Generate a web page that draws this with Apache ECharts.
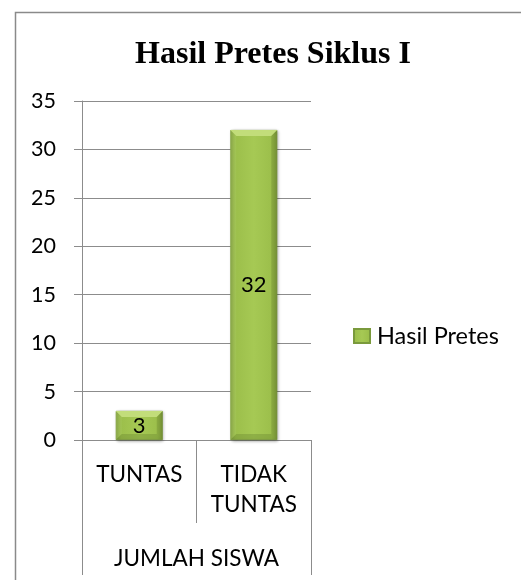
<!DOCTYPE html>
<html>
<head>
<meta charset="utf-8">
<script src="https://cdn.jsdelivr.net/npm/echarts@6/dist/echarts.min.js"></script>
<style>
html,body{margin:0;padding:0;background:#fff;}
#chart{width:521px;height:580px;}
</style>
</head>
<body>
<div id="chart"></div>
<script>
var titleText = 'Hasil Pretes Siklus I';
var categories = ['TUNTAS', 'TIDAK\nTUNTAS'];
var groupLabels = ['JUMLAH SISWA'];
var seriesName = 'Hasil Pretes';
var values = [3, 32];
var yTicks = { min: 0, max: 35, interval: 5 };

var font = 'Lato';
var gray = '#8c8c8c';
var chart = echarts.init(document.getElementById('chart'), null, {renderer: 'canvas'});

var barColor = new echarts.graphic.LinearGradient(0, 0, 1, 0, [
  {offset: 0, color: '#86a342'},
  {offset: 0.12, color: '#9cbf4b'},
  {offset: 0.5, color: '#a6c954'},
  {offset: 0.88, color: '#9cbf4b'},
  {offset: 1, color: '#7f9b3d'}
]);

var BAR_W = 47;
var BEVEL = 6;

function renderBevel(params, api) {
  var top = api.coord([api.value(0), api.value(1)]);
  var base = api.coord([api.value(0), 0]);
  var half = BAR_W / 2;
  var x0 = top[0] - half, x1 = top[0] + half;
  var y0 = top[1], y1 = base[1];
  var b = Math.min(BEVEL, (y1 - y0) / 2);
  return {
    type: 'group',
    silent: true,
    children: [
      { type: 'polygon', shape: {points: [[x0, y0], [x1, y0], [x1 - b, y0 + b], [x0 + b, y0 + b]]},
        style: {fill: '#c2dd7a'} },
      { type: 'polygon', shape: {points: [[x0, y0], [x0 + b, y0 + b], [x0 + b, y1 - b], [x0, y1]]},
        style: {fill: 'rgba(180,210,110,0.25)'} },
      { type: 'polygon', shape: {points: [[x1, y0], [x1, y1], [x1 - b, y1 - b], [x1 - b, y0 + b]]},
        style: {fill: 'rgba(95,122,40,0.3)'} },
      { type: 'polygon', shape: {points: [[x0, y1], [x0 + b, y1 - b], [x1 - b, y1 - b], [x1, y1]]},
        style: {fill: 'rgba(100,128,45,0.35)'} }
    ]
  };
}

chart.setOption({
  animation: false,
  graphic: [{
    type: 'rect',
    left: 13, top: 10,
    shape: {width: 540, height: 600},
    style: {fill: 'none', stroke: '#8a8a8a', lineWidth: 1.5},
    silent: true
  }],
  title: {
    text: titleText,
    left: 268, top: 34,
    textAlign: 'center',
    textStyle: {fontFamily: 'Liberation Serif', fontWeight: 'bold', fontSize: 32, color: '#000'}
  },
  legend: {
    data: [seriesName],
    left: 348, top: 319,
    itemWidth: 16, itemHeight: 14, itemGap: 8,
    textStyle: {fontFamily: font, fontSize: 23.5, color: '#000', padding: [0, 0, 0, 2]},
    icon: 'rect'
  },
  grid: {left: 82, right: 210, top: 101, bottom: 140, containLabel: false},
  xAxis: [{
    type: 'category',
    data: categories,
    position: 'bottom',
    axisLine: {show: true, lineStyle: {color: gray, width: 1}},
    axisTick: {show: true, length: 83, interval: 0, lineStyle: {color: gray, width: 1}},
    axisLabel: {
      interval: 0, margin: 20, verticalAlign: 'top', lineHeight: 30,
      fontFamily: font, fontSize: 22.5, color: '#000', align: 'center'
    }
  }, {
    type: 'category',
    data: groupLabels,
    position: 'bottom',
    axisLine: {show: false},
    axisTick: {show: true, length: 135, interval: 0, lineStyle: {color: gray, width: 1}},
    axisLabel: {
      interval: 0, margin: 104, verticalAlign: 'top', lineHeight: 30,
      fontFamily: font, fontSize: 22.5, color: '#000'
    }
  }],
  yAxis: {
    type: 'value',
    min: yTicks.min, max: yTicks.max, interval: yTicks.interval,
    axisLine: {show: true, lineStyle: {color: gray, width: 1}},
    axisTick: {show: true, length: 8, lineStyle: {color: gray, width: 1}},
    splitLine: {show: true, lineStyle: {color: gray, width: 1}},
    axisLabel: {margin: 26, fontFamily: font, fontSize: 21.5, color: '#000'}
  },
  series: [{
    name: seriesName,
    type: 'bar',
    xAxisIndex: 0,
    data: values,
    barWidth: BAR_W,
    itemStyle: {
      color: barColor,
      borderColor: '#7a9a3c', borderWidth: 0.6,
      shadowColor: 'rgba(0,0,0,0.35)', shadowBlur: 3, shadowOffsetX: 1, shadowOffsetY: 1
    },
    label: {show: false}
  }, {
    name: 'bevel',
    type: 'custom',
    xAxisIndex: 0,
    data: values.map(function (v, i) { return [i, v]; }),
    renderItem: renderBevel,
    encode: {x: 0, y: 1},
    z: 3
  }, {
    name: 'labels',
    type: 'bar',
    xAxisIndex: 0,
    data: values,
    barWidth: BAR_W,
    barGap: '-100%',
    itemStyle: {color: 'rgba(0,0,0,0)'},
    label: {show: true, position: 'inside', fontFamily: font, fontSize: 22, color: '#000'},
    z: 4
  }]
});
</script>
</body>
</html>
